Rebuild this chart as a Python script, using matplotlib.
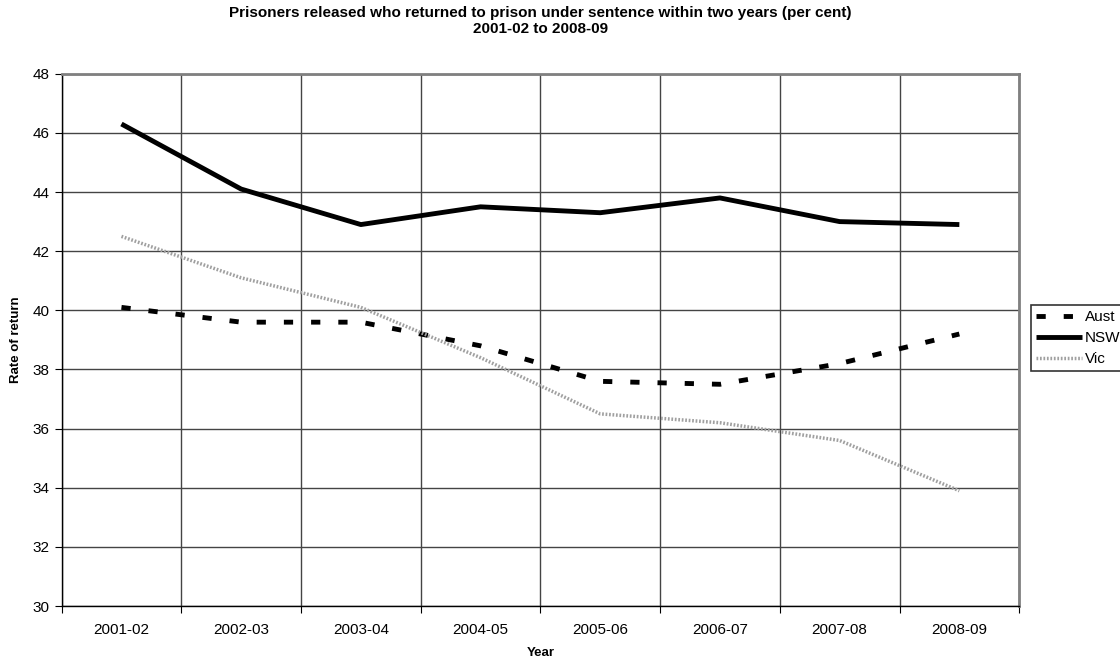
import matplotlib
matplotlib.use("Agg")
import matplotlib.pyplot as plt

plt.rcParams['font.family'] = ['Liberation Sans', 'DejaVu Sans']

years = ['2001-02', '2002-03', '2003-04', '2004-05', '2005-06', '2006-07', '2007-08', '2008-09']
aust = [40.1, 39.6, 39.6, 38.8, 37.6, 37.5, 38.2, 39.2]
nsw = [46.3, 44.1, 42.9, 43.5, 43.3, 43.8, 43.0, 42.9]
vic = [42.5, 41.1, 40.1, 38.4, 36.5, 36.2, 35.6, 33.9]
y_ticks = [30, 32, 34, 36, 38, 40, 42, 44, 46, 48]

fig = plt.figure(figsize=(11.2, 6.61), dpi=100)
ax = fig.add_axes([0.055, 0.083, 0.855, 0.8055])

x = list(range(len(years)))
ax.plot(x, aust, color='black', lw=3.5, linestyle=(0, (1.9, 3.7)), dash_capstyle='butt', label='Aust', zorder=3)
ax.plot(x, nsw, color='black', lw=3.5, solid_capstyle='butt', label='NSW', zorder=3)
ax.plot(x, vic, color='#a0a0a0', lw=2.5, linestyle=(0, (0.5, 0.5)), label='Vic', zorder=3)

ax.set_xlim(-0.5, len(years) - 0.5)
ax.set_ylim(30, 48)
ax.set_yticks(y_ticks)
ax.set_xticks([i - 0.5 for i in range(len(years) + 1)])
ax.set_xticklabels([])
ax.set_xticks(x, minor=True)
ax.set_xticklabels(years, minor=True)
ax.tick_params(axis='x', which='minor', length=0, pad=12, labelsize=11)
ax.tick_params(axis='x', which='major', length=5, direction='out', color='black')
ax.tick_params(axis='y', length=5, direction='out', labelsize=11)
ax.grid(True, which='major', color='#444444', lw=1.0)
ax.set_axisbelow(True)

for s in ['top', 'right']:
    ax.spines[s].set_color('#808080')
    ax.spines[s].set_linewidth(2)
for s in ['left', 'bottom']:
    ax.spines[s].set_color('black')
    ax.spines[s].set_linewidth(1)

ax.set_xlabel('Year', fontweight='bold', fontsize=9.5, labelpad=7)
ax.set_ylabel('Rate of return', fontweight='bold', fontsize=9.5, labelpad=8)
ax.set_title('Prisoners released who returned to prison under sentence within two years (per cent)\n2001-02 to 2008-09',
             fontweight='bold', fontsize=11, pad=29, linespacing=1.25)

leg = fig.legend(loc='upper left', bbox_to_anchor=(1031 / 1120, 1 - 305 / 661),
                 fontsize=11, frameon=True, fancybox=False, handlelength=3.0,
                 handletextpad=0.15, borderpad=0.35, labelspacing=0.45, borderaxespad=0)
leg.get_frame().set_edgecolor('black')
leg.get_frame().set_linewidth(1.2)

fig.savefig('out.png', dpi=100)
